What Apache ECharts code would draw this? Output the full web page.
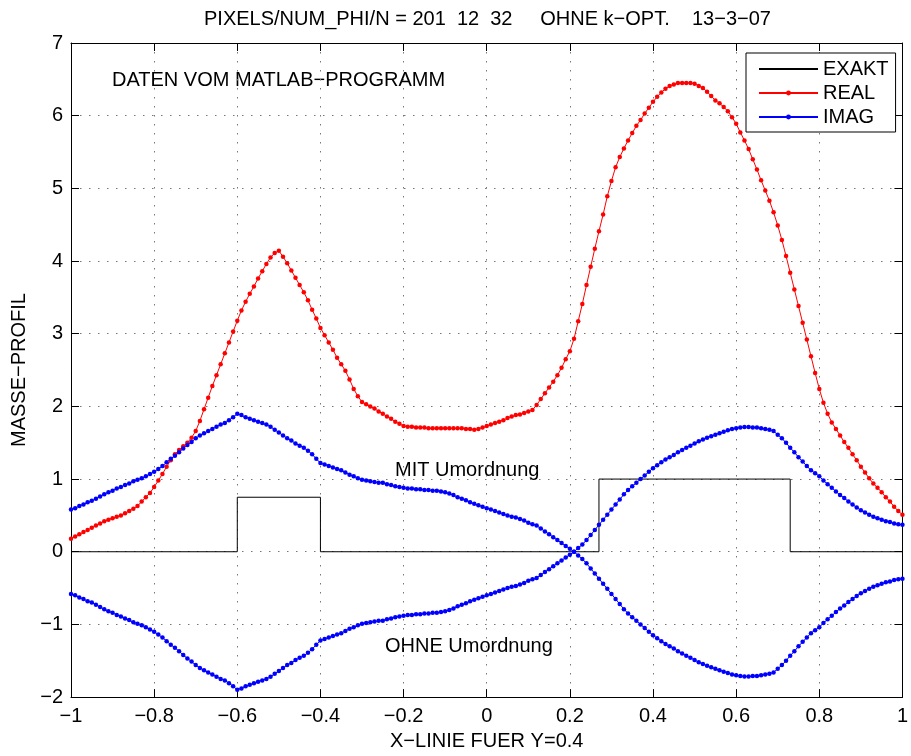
<!DOCTYPE html>
<html><head><meta charset="utf-8">
<script src="https://cdn.jsdelivr.net/npm/echarts@6/dist/echarts.min.js"></script>
<style>html,body{margin:0;padding:0;background:#fff}#c{width:911px;height:756px}</style>
</head><body><div id="c"></div>
<script>
const xTickLabels = ['\u22121','\u22120.8','\u22120.6','\u22120.4','\u22120.2','0','0.2','0.4','0.6','0.8','1'];
const yTickLabels = ['\u22122','\u22121','0','1','2','3','4','5','6','7'];

// EXAKT step profile (breakpoints)
const exaktX = [-1, -0.6, -0.6, -0.4, -0.4, 0.27, 0.27, 0.73, 0.73, 1];
const exaktY = [0, 0, 0.75, 0.75, 0, 0, 1, 1, 0, 0];

// REAL, 201 samples from x=-1 to 1
const realY = [
0.18,0.21,0.24,0.27,0.30,0.33,0.36,0.39,0.42,0.44,
0.46,0.48,0.50,0.53,0.56,0.59,0.63,0.69,0.75,0.81,
0.89,0.98,1.07,1.17,1.26,1.34,1.40,1.45,1.50,1.57,
1.66,1.80,1.96,2.12,2.28,2.43,2.58,2.73,2.88,3.03,
3.18,3.32,3.44,3.55,3.65,3.76,3.86,3.96,4.05,4.11,
4.14,4.06,3.97,3.87,3.77,3.67,3.57,3.46,3.33,3.21,
3.08,2.98,2.88,2.78,2.67,2.58,2.49,2.37,2.24,2.14,
2.06,2.03,2.00,1.97,1.93,1.90,1.86,1.83,1.79,1.76,
1.73,1.72,1.72,1.71,1.71,1.71,1.70,1.70,1.70,1.70,
1.70,1.70,1.70,1.70,1.70,1.69,1.69,1.68,1.69,1.71,
1.73,1.75,1.77,1.79,1.81,1.84,1.86,1.88,1.89,1.91,
1.93,1.95,2.02,2.10,2.18,2.26,2.34,2.43,2.53,2.65,
2.76,2.93,3.17,3.41,3.67,3.92,4.17,4.41,4.64,4.89,
5.10,5.29,5.43,5.55,5.66,5.76,5.86,5.94,6.03,6.11,
6.19,6.26,6.32,6.37,6.41,6.43,6.45,6.45,6.45,6.45,
6.44,6.41,6.38,6.33,6.27,6.21,6.17,6.12,6.06,5.98,
5.89,5.77,5.66,5.54,5.40,5.26,5.11,4.97,4.83,4.67,
4.49,4.29,4.07,3.84,3.61,3.38,3.15,2.92,2.69,2.46,
2.24,2.05,1.90,1.78,1.69,1.60,1.51,1.43,1.34,1.26,
1.17,1.09,1.01,0.94,0.88,0.82,0.75,0.69,0.62,0.56,
0.51];

// IMAG curve (positive on the left), 201 samples
const imagAY = [
0.58,0.60,0.63,0.65,0.68,0.70,0.73,0.76,0.79,0.82,
0.84,0.87,0.89,0.92,0.94,0.97,0.99,1.01,1.04,1.07,
1.10,1.14,1.18,1.23,1.28,1.32,1.37,1.42,1.47,1.51,
1.56,1.60,1.63,1.66,1.69,1.72,1.75,1.77,1.81,1.85,
1.90,1.88,1.85,1.83,1.81,1.79,1.77,1.75,1.72,1.68,
1.64,1.60,1.56,1.53,1.49,1.46,1.43,1.39,1.34,1.28,
1.22,1.20,1.18,1.16,1.14,1.12,1.09,1.06,1.04,1.01,
0.99,0.98,0.97,0.96,0.95,0.95,0.93,0.92,0.90,0.89,
0.88,0.87,0.87,0.86,0.86,0.85,0.85,0.84,0.84,0.83,
0.82,0.80,0.78,0.75,0.73,0.71,0.68,0.66,0.64,0.62,
0.60,0.58,0.56,0.54,0.52,0.50,0.48,0.47,0.45,0.43,
0.40,0.38,0.36,0.32,0.28,0.24,0.20,0.16,0.12,0.08,
0.04,0.00,-0.05,-0.10,-0.16,-0.23,-0.30,-0.37,-0.44,-0.51,
-0.58,-0.65,-0.72,-0.79,-0.85,-0.90,-0.95,-1.00,-1.05,-1.10,
-1.15,-1.19,-1.23,-1.27,-1.30,-1.33,-1.37,-1.40,-1.43,-1.46,
-1.49,-1.52,-1.545,-1.57,-1.59,-1.61,-1.63,-1.65,-1.67,-1.69,
-1.70,-1.71,-1.715,-1.715,-1.71,-1.71,-1.70,-1.69,-1.68,-1.66,
-1.61,-1.56,-1.50,-1.43,-1.37,-1.30,-1.24,-1.18,-1.12,-1.08,
-1.04,-0.98,-0.93,-0.88,-0.83,-0.78,-0.74,-0.69,-0.65,-0.61,
-0.57,-0.54,-0.51,-0.48,-0.46,-0.44,-0.42,-0.41,-0.39,-0.38,
-0.37];

// IMAG curve (negative on the left), 201 samples
const imagBY = [
-0.58,-0.60,-0.63,-0.65,-0.68,-0.70,-0.73,-0.76,-0.79,-0.82,
-0.84,-0.87,-0.89,-0.92,-0.94,-0.97,-0.99,-1.01,-1.04,-1.07,
-1.10,-1.14,-1.18,-1.23,-1.28,-1.32,-1.37,-1.42,-1.47,-1.51,
-1.56,-1.60,-1.63,-1.66,-1.69,-1.72,-1.75,-1.77,-1.81,-1.85,
-1.90,-1.88,-1.85,-1.83,-1.81,-1.79,-1.77,-1.75,-1.72,-1.68,
-1.64,-1.60,-1.56,-1.53,-1.49,-1.46,-1.43,-1.39,-1.34,-1.28,
-1.22,-1.20,-1.18,-1.16,-1.14,-1.12,-1.09,-1.06,-1.04,-1.01,
-0.99,-0.98,-0.97,-0.96,-0.95,-0.95,-0.93,-0.92,-0.90,-0.89,
-0.88,-0.87,-0.87,-0.86,-0.86,-0.85,-0.85,-0.84,-0.84,-0.83,
-0.82,-0.80,-0.78,-0.75,-0.73,-0.71,-0.68,-0.66,-0.64,-0.62,
-0.60,-0.58,-0.56,-0.54,-0.52,-0.50,-0.48,-0.47,-0.45,-0.43,
-0.40,-0.38,-0.36,-0.32,-0.28,-0.24,-0.20,-0.16,-0.12,-0.08,
-0.04,0.00,0.05,0.10,0.16,0.23,0.30,0.37,0.44,0.51,
0.58,0.65,0.72,0.79,0.85,0.90,0.95,1.00,1.05,1.10,
1.15,1.19,1.23,1.27,1.30,1.33,1.37,1.40,1.43,1.46,
1.49,1.52,1.545,1.57,1.59,1.61,1.63,1.65,1.67,1.69,
1.70,1.71,1.715,1.715,1.71,1.71,1.70,1.69,1.68,1.66,
1.61,1.56,1.50,1.43,1.37,1.30,1.24,1.18,1.12,1.08,
1.04,0.98,0.93,0.88,0.83,0.78,0.74,0.69,0.65,0.61,
0.57,0.54,0.51,0.48,0.46,0.44,0.42,0.41,0.39,0.38,
0.37];

// sample grid: 201 pixels between -1 and 1
const xs = [];
for (let i = 0; i < realY.length; i++) xs.push(Math.round((-1 + i * 2 / (realY.length - 1)) * 1000) / 1000);

const FONT = '"Liberation Sans", Arial, Helvetica, sans-serif';
const FS = 20;
const pairs = (xa, ya) => xa.map((x, i) => [x, ya[i]]);

const chart = echarts.init(document.getElementById('c'), null, {renderer: 'canvas'});
const gridLine = {show: true, lineStyle: {color: '#777', width: 1, type: [1.5, 7.5]}};
const axLine = {show: true, onZero: false, lineStyle: {color: '#000', width: 1}};
const tick = {show: true, inside: true, length: 8, lineStyle: {color: '#000', width: 1}};

chart.setOption({
  animation: false,
  backgroundColor: '#fff',
  title: {
    text: 'PIXELS/NUM_PHI/N = 201  12  32     OHNE k\u2212OPT.    13\u22123\u221207',
    left: 204, top: 9, padding: 0,
    textStyle: {fontFamily: FONT, fontSize: FS, fontWeight: 'normal', color: '#000'}
  },
  grid: {left: 71, top: 43, width: 835, height: 659, containLabel: false},
  legend: {
    data: [
      {name: 'EXAKT', itemStyle: {opacity: 0}},
      {name: 'REAL'},
      {name: 'IMAG'}
    ],
    orient: 'vertical', left: 746, top: 53,
    itemWidth: 59, itemHeight: 6, itemGap: 4, padding: [6, 7, 5, 12],
    borderColor: '#000', borderWidth: 1, borderRadius: 0, backgroundColor: '#fff',
    selectedMode: false,
    textStyle: {fontFamily: FONT, fontSize: FS, color: '#000'}
  },
  xAxis: [{
    type: 'value', min: -1, max: 1, interval: 0.2, position: 'bottom',
    name: 'X\u2212LINIE FUER Y=0.4', nameLocation: 'middle', nameGap: 33,
    nameTextStyle: {fontFamily: FONT, fontSize: FS, color: '#000'},
    axisLine: axLine, axisTick: tick, splitLine: gridLine,
    axisLabel: {margin: 9, fontFamily: FONT, fontSize: FS, color: '#000',
      formatter: (v, i) => xTickLabels[i]}
  }, {
    type: 'value', min: -1, max: 1, interval: 0.2, position: 'top',
    axisLine: axLine, axisTick: tick, splitLine: {show: false}, axisLabel: {show: false}
  }],
  yAxis: [{
    type: 'value', min: -2, max: 7, interval: 1, position: 'left',
    name: 'MASSE\u2212PROFIL', nameLocation: 'middle', nameGap: 37,
    nameTextStyle: {fontFamily: FONT, fontSize: FS, color: '#000'},
    axisLine: axLine, axisTick: tick, splitLine: gridLine,
    axisLabel: {margin: 8, fontFamily: FONT, fontSize: FS, color: '#000',
      formatter: (v, i) => yTickLabels[i]}
  }, {
    type: 'value', min: -2, max: 7, interval: 1, position: 'right',
    axisLine: axLine, axisTick: tick, splitLine: {show: false}, axisLabel: {show: false}
  }],
  series: [{
    name: 'EXAKT', type: 'line', data: pairs(exaktX, exaktY), symbol: 'none',
    lineStyle: {color: '#000', width: 1}, itemStyle: {color: '#000'}, silent: true
  }, {
    name: 'REAL', type: 'line', data: pairs(xs, realY), symbol: 'circle', symbolSize: 4.5,
    showAllSymbol: true,
    lineStyle: {color: '#ff0000', width: 1}, itemStyle: {color: '#ff0000'}, silent: true
  }, {
    name: 'IMAG', type: 'line', data: pairs(xs, imagAY), symbol: 'circle', symbolSize: 4.5,
    showAllSymbol: true,
    lineStyle: {color: '#0000ff', width: 1}, itemStyle: {color: '#0000ff'}, silent: true
  }, {
    name: 'IMAG (OHNE)', type: 'line', data: pairs(xs, imagBY), symbol: 'circle', symbolSize: 4.5,
    showAllSymbol: true,
    lineStyle: {color: '#0000ff', width: 1}, itemStyle: {color: '#0000ff'}, silent: true
  }],
  graphic: [
    {type: 'text', x: 112, y: 80, silent: true,
     style: {text: 'DATEN VOM MATLAB\u2212PROGRAMM', font: FS + 'px ' + FONT, fill: '#000', verticalAlign: 'middle'}},
    {type: 'text', x: 395, y: 470, silent: true,
     style: {text: 'MIT Umordnung', font: FS + 'px ' + FONT, fill: '#000', verticalAlign: 'middle'}},
    {type: 'text', x: 385, y: 646, silent: true,
     style: {text: 'OHNE Umordnung', font: FS + 'px ' + FONT, fill: '#000', verticalAlign: 'middle'}}
  ]
});
</script>
</body></html>
